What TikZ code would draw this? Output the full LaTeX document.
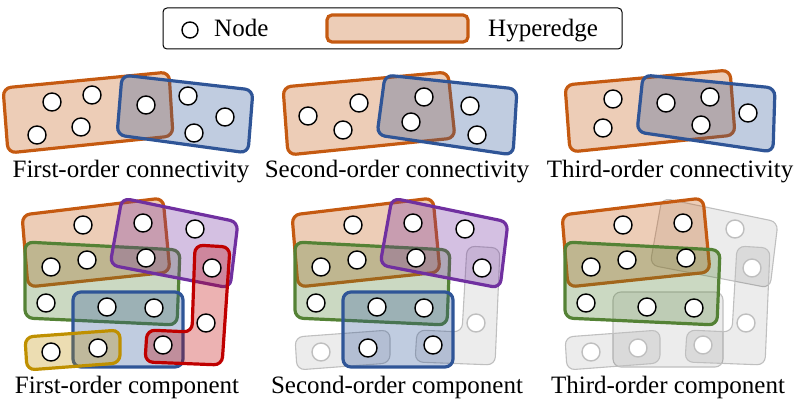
\documentclass[tikz,border=0pt]{standalone}
\usepackage{fontspec}
\setmainfont{Liberation Serif}
\usetikzlibrary{positioning}

\definecolor{heOrange}{HTML}{C55A11}
\definecolor{heBlue}{HTML}{2F5597}
\definecolor{hePurple}{HTML}{7030A0}
\definecolor{heGreen}{HTML}{548235}
\definecolor{heYellow}{HTML}{BF9000}
\definecolor{heRed}{HTML}{C00000}

\begin{document}
\begin{tikzpicture}[x=1pt, y=-1pt,
  vtx/.style={circle, draw=black, fill=white, line width=1.4pt,
              minimum size=18pt, inner sep=0pt},
  gvtx/.style={vtx, draw=black!25},
  hedge/.style={draw=#1, fill=#1, fill opacity=0.3, line width=3.2pt,
                rounded corners=8pt},
  ghedge/.style={draw=black!25, fill=black, fill opacity=0.075,
                 line width=1.1pt, rounded corners=8pt},
  lbl/.style={font=\fontsize{25}{30}\selectfont, inner sep=0pt, anchor=base},
]
  \useasboundingbox (0,0) rectangle (797,404);

  % Legend
  \draw[line width=1pt, rounded corners=4pt] (163,8) rectangle (622,49);
  \node[vtx, minimum size=16pt] (lgnode) at (190,30) {};
  \node[lbl, anchor=base west] (lgnodetxt) at (214,37) {Node};
  \draw[hedge=heOrange, rounded corners=5pt] (327,15) rectangle (468,42);
  \node[lbl, anchor=base west] (lgedgetxt) at (488,37) {Hyperedge};

  % ── First-order connectivity ──
  \draw[hedge=heOrange] (3,88) -- (169,72) -- (173,136) -- (8,153) -- cycle;
  \draw[hedge=heBlue] (122,75) -- (253,90) -- (248,153) -- (117,135) -- cycle;
  \foreach \n/\x/\y in {1/52/102, 2/92/95, 3/37/135, 4/81/127,
                        5/146/105, 6/188/96, 7/225/117, 8/194/133}
    { \node[vtx] (fa\n) at (\x,\y) {}; }
  \node[lbl] (falbl) at (131,177) {First-order connectivity};

  % ── Second-order connectivity ──
  \draw[hedge=heOrange] (283,87) -- (448,72) -- (455,138) -- (288,155) -- cycle;
  \draw[hedge=heBlue] (385,75) -- (517,89) -- (513,155) -- (377,135) -- cycle;
  \foreach \n/\x/\y in {1/308/116, 2/359/103, 3/343/130, 4/424/97,
                        5/411/122, 6/470/106, 7/477/135}
    { \node[vtx] (sa\n) at (\x,\y) {}; }
  \node[lbl] (salbl) at (397,177) {Second-order connectivity};

  % ── Third-order connectivity ──
  \draw[hedge=heOrange] (565,85) -- (730,70) -- (735,135) -- (570,152) -- cycle;
  \draw[hedge=heBlue] (643,75) -- (775,88) -- (773,152) -- (637,132) -- cycle;
  \foreach \n/\x/\y in {1/613/99, 2/603/128, 3/666/103, 4/710/97,
                        5/701/125, 6/748/113}
    { \node[vtx] (ta\n) at (\x,\y) {}; }
  \node[lbl] (talbl) at (670,177) {Third-order connectivity};

  % ── First-order component ──
  \draw[hedge=heOrange] (22,215) -- (163,198) -- (170,272) -- (28,287) -- cycle;
  \draw[hedge=heGreen] (25,242) -- (180,250) -- (177,325) -- (25,318) -- cycle;
  \draw[hedge=hePurple] (122,198) -- (238,222) -- (230,288) -- (110,265) -- cycle;
  \draw[hedge=heBlue] (73,292) -- (183,292) -- (183,367) -- (73,367) -- cycle;
  \draw[hedge=heYellow] (25,337) -- (120,330) -- (120,363) -- (27,370) -- cycle;
  \draw[hedge=heRed] (195,245) -- (230,247) -- (222,365) -- (145,362)
    -- (147,330) -- (192,332) -- cycle;
  \foreach \n/\x/\y in {1/83/225, 2/143/223, 3/195/229, 4/51/267, 5/87/260,
                        6/146/258, 7/212/268, 8/46/303, 9/107/307, 10/154/308,
                        11/206/323, 12/51/352, 13/98/348, 14/163/345}
    { \node[vtx] (fc\n) at (\x,\y) {}; }
  \node[lbl] (fclbl) at (127,393) {First-order component};

  % ── Second-order component ──
  \begin{scope}[xshift=270pt]
    \draw[ghedge] (25,337) -- (120,330) -- (120,363) -- (27,370) -- cycle;
    \draw[ghedge] (197,246) -- (230,248) -- (225,365) -- (145,362)
      -- (147,330) -- (192,332) -- cycle;
    \draw[hedge=heOrange] (22,215) -- (163,198) -- (170,272) -- (28,287) -- cycle;
    \draw[hedge=heGreen] (25,242) -- (180,250) -- (177,325) -- (25,318) -- cycle;
    \draw[hedge=hePurple] (122,198) -- (238,222) -- (230,288) -- (110,265) -- cycle;
    \draw[hedge=heBlue] (73,292) -- (183,292) -- (183,367) -- (73,367) -- cycle;
    \foreach \n/\x/\y in {1/83/225, 2/143/223, 3/195/229, 4/51/267, 5/87/260,
                          6/146/258, 7/212/268, 8/46/303, 9/107/307, 10/154/308,
                          13/98/348, 14/163/345}
      { \node[vtx] (sc\n) at (\x,\y) {}; }
    \foreach \n/\x/\y in {11/206/323, 12/51/352}
      { \node[gvtx] (sc\n) at (\x,\y) {}; }
    \node[lbl] (sclbl) at (127,393) {Second-order component};
  \end{scope}

  % ── Third-order component ──
  \begin{scope}[xshift=540pt]
    \draw[ghedge] (122,198) -- (238,222) -- (230,288) -- (110,265) -- cycle;
    \draw[ghedge] (73,292) -- (183,292) -- (183,367) -- (73,367) -- cycle;
    \draw[ghedge] (25,337) -- (120,330) -- (120,363) -- (27,370) -- cycle;
    \draw[ghedge] (197,246) -- (230,248) -- (225,365) -- (145,362)
      -- (147,330) -- (192,332) -- cycle;
    \draw[hedge=heOrange] (22,215) -- (163,198) -- (170,272) -- (28,287) -- cycle;
    \draw[hedge=heGreen] (25,242) -- (180,250) -- (177,325) -- (25,318) -- cycle;
    \foreach \n/\x/\y in {1/83/225, 2/143/223, 4/51/267, 5/87/260,
                          6/146/258, 8/46/303, 9/107/307, 10/154/308}
      { \node[vtx] (tc\n) at (\x,\y) {}; }
    \foreach \n/\x/\y in {3/195/229, 7/212/268, 11/206/323, 12/51/352,
                          13/98/348, 14/163/345}
      { \node[gvtx] (tc\n) at (\x,\y) {}; }
    \node[lbl] (tclbl) at (128,393) {Third-order component};
  \end{scope}

\end{tikzpicture}
\end{document}
